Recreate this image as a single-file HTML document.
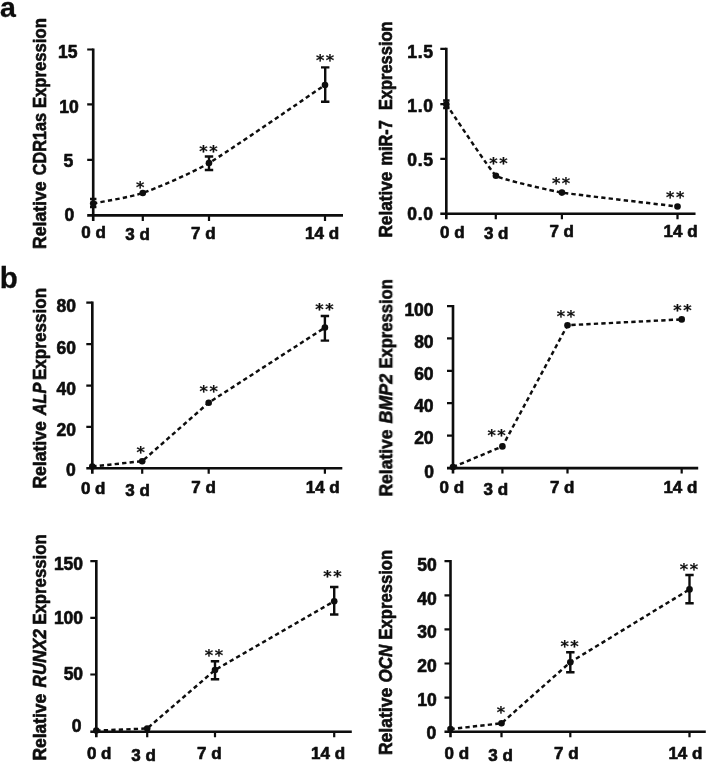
<!DOCTYPE html>
<html lang="en"><head><meta charset="utf-8"><title>Figure</title>
<style>
html,body{margin:0;padding:0;background:#fff;}
svg{display:block;font-family:"Liberation Sans",sans-serif;font-weight:bold;fill:#111;}
text{stroke:#111;stroke-width:0.65px;stroke-linejoin:round}
.ax{stroke:#0a0a0a;stroke-width:2.6;fill:none;stroke-linecap:butt}
.tm{stroke:#0a0a0a;stroke-width:2.2;fill:none;stroke-linecap:butt}
.ln{stroke:#0a0a0a;stroke-width:2.45;fill:none;stroke-dasharray:4.3 3.2}
.eb{stroke:#0a0a0a;stroke-width:2.4;fill:none}
.pt{fill:#0a0a0a}
.tk{font-size:17.5px}
.tx{font-size:17px}
.ti{font-size:19px}
.as{font-family:"DejaVu Sans",sans-serif;font-size:16px;letter-spacing:1.6px;stroke-width:0.2px}
.pl{font-size:28px;stroke-width:0.3px}
.it{font-style:italic}
</style></head><body>
<svg width="709" height="763" viewBox="0 0 709 763">
<defs><filter id="soft" x="0" y="0" width="709" height="763" filterUnits="userSpaceOnUse"><feGaussianBlur stdDeviation="0.4"/></filter></defs>
<rect width="709" height="763" fill="#fff"/>
<g filter="url(#soft)">
<text class="pl" x="0" y="16.6" style="font-size:28.5px">a</text>
<text class="pl" x="-0.3" y="288.2" style="font-size:29.5px">b</text>
<g id="chartA">
<path class="ax" d="M93.2,48.4 V220.9 M87.2,215.4 H343"/>
<path class="tm" d="M87.2,49.5 H93.2 M87.2,104.3 H93.2 M87.2,159.8 H93.2 M142.8,215.4 V220.9 M209,215.4 V220.9 M325,215.4 V220.9"/>
<text class="tk" x="67.8" y="58.4" text-anchor="middle">15</text>
<text class="tk" x="68.9" y="113.0" text-anchor="middle">10</text>
<text class="tk" x="68.3" y="167.2" text-anchor="middle">5</text>
<text class="tk" x="69.4" y="220.7" text-anchor="middle">0</text>
<text class="tx" x="93.6" y="238.3" text-anchor="middle">0 d</text>
<text class="tx" x="137.5" y="240.2" text-anchor="middle">3 d</text>
<text class="tx" x="203.4" y="238.7" text-anchor="middle">7 d</text>
<text class="tx" x="322.1" y="238.7" text-anchor="middle">14 d</text>
<path class="ln" d="M93.2,203.5 C98.2,202.4 131.2,197.1 142.8,193.0 C154.4,188.9 190.8,173.8 209.0,163.0 C227.2,152.2 313.4,92.8 325.0,85.0"/>
<path class="eb" d="M93.2,199 V207 M90.0,199 H96.4 M90.0,207 H96.4"/>
<path class="eb" d="M209,156.5 V170 M204.8,156.5 H213.2 M204.8,170 H213.2"/>
<path class="eb" d="M325.2,67.4 V101.8 M321.0,67.4 H329.4 M321.0,101.8 H329.4"/>
<circle class="pt" cx="93.2" cy="203.5" r="3.3"/>
<circle class="pt" cx="142.8" cy="193" r="3.3"/>
<circle class="pt" cx="209" cy="163" r="3.3"/>
<circle class="pt" cx="325" cy="85" r="3.3"/>
<text class="as" x="136.1" y="192.7">*</text>
<text class="as" x="199.2" y="157.3">**</text>
<text class="as" x="315.9" y="66.4">**</text>
<g transform="translate(45.5,0) rotate(-90)">
<text class="ti" x="-249.10" y="0" textLength="67.75" lengthAdjust="spacingAndGlyphs">Relative</text>
<text class="ti" x="-175.29" y="0" textLength="62.35" lengthAdjust="spacingAndGlyphs">CDR1as</text>
<text class="ti" x="-108.10" y="0" textLength="89.94" lengthAdjust="spacingAndGlyphs">Expression</text>
</g>
</g>
<g id="chartB">
<path class="ax" d="M446.3,47.8 V219.2 M440.3,213.7 H695.5"/>
<path class="tm" d="M440.3,48.9 H446.3 M440.3,104.2 H446.3 M440.3,158.8 H446.3 M495.8,213.7 V219.2 M561.9,213.7 V219.2 M677.5,213.7 V219.2"/>
<text class="tk" x="433.7" y="57.6" text-anchor="end" letter-spacing="0.7">1.5</text>
<text class="tk" x="433.7" y="111.7" text-anchor="end" letter-spacing="0.7">1.0</text>
<text class="tk" x="433.7" y="166.1" text-anchor="end" letter-spacing="0.7">0.5</text>
<text class="tk" x="433.7" y="220.4" text-anchor="end" letter-spacing="0.7">0.0</text>
<text class="tx" x="452.4" y="237.6" text-anchor="middle">0 d</text>
<text class="tx" x="496.2" y="238.8" text-anchor="middle">3 d</text>
<text class="tx" x="561.7" y="237.2" text-anchor="middle">7 d</text>
<text class="tx" x="680.6" y="237.2" text-anchor="middle">14 d</text>
<path class="ln" d="M446.3,104.2 C448.4,107.2 491.1,172.0 495.9,175.7 C500.7,179.4 554.3,191.3 561.9,192.6 C569.5,193.9 672.7,205.9 677.5,206.5"/>
<path class="eb" d="M446.3,100.5 V108 M443.1,100.5 H449.5 M443.1,108 H449.5"/>
<circle class="pt" cx="446.3" cy="104.2" r="3.3"/>
<circle class="pt" cx="495.9" cy="175.7" r="3.3"/>
<circle class="pt" cx="561.9" cy="192.6" r="3.3"/>
<circle class="pt" cx="677.5" cy="206.5" r="3.3"/>
<text class="as" x="489.3" y="169.0">**</text>
<text class="as" x="551.9" y="188.9">**</text>
<text class="as" x="666.1" y="203.1">**</text>
<g transform="translate(392.2,0) rotate(-90)">
<text class="ti" x="-237.60" y="0" textLength="65.97" lengthAdjust="spacingAndGlyphs">Relative</text>
<text class="ti" x="-165.60" y="0" textLength="45.40" lengthAdjust="spacingAndGlyphs">miR-7</text>
<text class="ti" x="-110.10" y="0" textLength="88.67" lengthAdjust="spacingAndGlyphs">Expression</text>
</g>
</g>
<g id="chartC">
<path class="ax" d="M92.3,301.6 V473.8 M86.3,468.3 H342.3"/>
<path class="tm" d="M86.3,302.7 H92.3 M86.3,344.2 H92.3 M86.3,385.6 H92.3 M86.3,426.9 H92.3 M142.2,468.3 V473.8 M208.7,468.3 V473.8 M324.9,468.3 V473.8"/>
<text class="tk" x="76" y="311.9" text-anchor="end">80</text>
<text class="tk" x="76" y="353.9" text-anchor="end">60</text>
<text class="tk" x="76" y="394.9" text-anchor="end">40</text>
<text class="tk" x="76" y="435.8" text-anchor="end">20</text>
<text class="tk" x="75.8" y="475.9" text-anchor="end">0</text>
<text class="tx" x="93.2" y="494.0" text-anchor="middle">0 d</text>
<text class="tx" x="137.5" y="495.8" text-anchor="middle">3 d</text>
<text class="tx" x="203.5" y="493.2" text-anchor="middle">7 d</text>
<text class="tx" x="322.7" y="493.2" text-anchor="middle">14 d</text>
<path class="ln" d="M92.3,466.5 L142.2,461.2 L208.7,402.7 L324.9,327.6"/>
<path class="eb" d="M324.9,316 V340.6 M320.7,316 H329.1 M320.7,340.6 H329.1"/>
<circle class="pt" cx="92.3" cy="466.5" r="3.3"/>
<circle class="pt" cx="142.2" cy="461.2" r="3.3"/>
<circle class="pt" cx="208.7" cy="402.7" r="3.3"/>
<circle class="pt" cx="324.9" cy="327.6" r="3.3"/>
<text class="as" x="136.5" y="458.1">*</text>
<text class="as" x="199.6" y="397.2">**</text>
<text class="as" x="315.3" y="314.8">**</text>
<g transform="translate(46.2,0) rotate(-90)">
<text class="ti" x="-488.60" y="0" textLength="67.37" lengthAdjust="spacingAndGlyphs">Relative</text>
<text class="ti it" x="-415.31" y="0" textLength="32.52" lengthAdjust="spacingAndGlyphs">ALP</text>
<text class="ti" x="-380.05" y="0" textLength="92.13" lengthAdjust="spacingAndGlyphs">Expression</text>
</g>
</g>
<g id="chartD">
<path class="ax" d="M453,305.1 V473.6 M447,468.1 H698.2"/>
<path class="tm" d="M447.0,306.2 H453 M447.0,338.4 H453 M447.0,370.8 H453 M447.0,403.2 H453 M447.0,435.7 H453 M502.4,468.1 V473.6 M567.5,468.1 V473.6 M681.7,468.1 V473.6"/>
<text class="tk" x="433.6" y="316.1" text-anchor="end">100</text>
<text class="tk" x="433.6" y="348.2" text-anchor="end">80</text>
<text class="tk" x="433.6" y="380.2" text-anchor="end">60</text>
<text class="tk" x="433.6" y="411.8" text-anchor="end">40</text>
<text class="tk" x="433.6" y="443.6" text-anchor="end">20</text>
<text class="tk" x="434" y="477.8" text-anchor="end">0</text>
<text class="tx" x="451.8" y="493.2" text-anchor="middle">0 d</text>
<text class="tx" x="495.9" y="494.8" text-anchor="middle">3 d</text>
<text class="tx" x="562.2" y="493.2" text-anchor="middle">7 d</text>
<text class="tx" x="680.4" y="493.2" text-anchor="middle">14 d</text>
<path class="ln" d="M453.0,467.1 L502.4,446.4 L567.5,325.2 L681.7,319.4"/>
<circle class="pt" cx="453" cy="467.1" r="3.3"/>
<circle class="pt" cx="502.4" cy="446.4" r="3.3"/>
<circle class="pt" cx="567.5" cy="325.2" r="3.3"/>
<circle class="pt" cx="681.7" cy="319.4" r="3.3"/>
<text class="as" x="487.4" y="441.2">**</text>
<text class="as" x="556.8" y="322.0">**</text>
<text class="as" x="673.3" y="315.6">**</text>
<g transform="translate(392.3,0) rotate(-90)">
<text class="ti" x="-496.60" y="0" textLength="67.19" lengthAdjust="spacingAndGlyphs">Relative</text>
<text class="ti it" x="-423.42" y="0" textLength="49.47" lengthAdjust="spacingAndGlyphs">BMP2</text>
<text class="ti" x="-368.60" y="0" textLength="89.45" lengthAdjust="spacingAndGlyphs">Expression</text>
</g>
</g>
<g id="chartE">
<path class="ax" d="M96.3,560.1 V737.2 M90.3,731.7 H351.8"/>
<path class="tm" d="M90.3,561.2 H96.3 M90.3,617.9 H96.3 M90.3,674.5 H96.3 M147.2,731.7 V737.2 M215,731.7 V737.2 M334.2,731.7 V737.2"/>
<text class="tk" x="83.1" y="570.1" text-anchor="end">150</text>
<text class="tk" x="83.1" y="624.4" text-anchor="end">100</text>
<text class="tk" x="83.1" y="679.8" text-anchor="end">50</text>
<text class="tk" x="81.6" y="732.2" text-anchor="end">0</text>
<text class="tx" x="99.2" y="759.0" text-anchor="middle">0 d</text>
<text class="tx" x="143.5" y="761.1" text-anchor="middle">3 d</text>
<text class="tx" x="209.3" y="758.7" text-anchor="middle">7 d</text>
<text class="tx" x="328.1" y="758.7" text-anchor="middle">14 d</text>
<path class="ln" d="M96.3,730.6 L147.2,728.5 L215.0,670.0 L334.2,601.2"/>
<path class="eb" d="M215,661.3 V679.2 M210.8,661.3 H219.2 M210.8,679.2 H219.2"/>
<path class="eb" d="M334.2,587 V614.5 M330.0,587 H338.4 M330.0,614.5 H338.4"/>
<circle class="pt" cx="96.3" cy="730.6" r="3.3"/>
<circle class="pt" cx="147.2" cy="728.5" r="3.3"/>
<circle class="pt" cx="215" cy="670" r="3.3"/>
<circle class="pt" cx="334.2" cy="601.2" r="3.3"/>
<text class="as" x="204.8" y="661.0">**</text>
<text class="as" x="323.2" y="582.0">**</text>
<g transform="translate(46.2,0) rotate(-90)">
<text class="ti" x="-760.60" y="0" textLength="66.75" lengthAdjust="spacingAndGlyphs">Relative</text>
<text class="ti it" x="-687.43" y="0" textLength="58.19" lengthAdjust="spacingAndGlyphs">RUNX2</text>
<text class="ti" x="-624.60" y="0" textLength="90.22" lengthAdjust="spacingAndGlyphs">Expression</text>
</g>
</g>
<g id="chartF">
<path class="ax" d="M450.5,560.1 V737.2 M444.5,731.7 H705.8"/>
<path class="tm" d="M444.5,561.2 H450.5 M444.5,595.3 H450.5 M444.5,629.4 H450.5 M444.5,663.5 H450.5 M444.5,697.7 H450.5 M501.5,731.7 V737.2 M570.3,731.7 V737.2 M689.5,731.7 V737.2"/>
<text class="tk" x="436.8" y="571.0" text-anchor="end">50</text>
<text class="tk" x="436.8" y="604.6" text-anchor="end">40</text>
<text class="tk" x="436.8" y="638.2" text-anchor="end">30</text>
<text class="tk" x="436.8" y="671.9" text-anchor="end">20</text>
<text class="tk" x="436.8" y="705.8" text-anchor="end">10</text>
<text class="tk" x="436.2" y="739.0" text-anchor="end">0</text>
<text class="tx" x="456.9" y="759.0" text-anchor="middle">0 d</text>
<text class="tx" x="500.6" y="760.5" text-anchor="middle">3 d</text>
<text class="tx" x="566.4" y="758.6" text-anchor="middle">7 d</text>
<text class="tx" x="685.4" y="758.6" text-anchor="middle">14 d</text>
<path class="ln" d="M450.5,729.1 L501.5,723.3 L570.3,662.2 L689.5,589.4"/>
<path class="eb" d="M570.3,652.2 V672.3 M566.1,652.2 H574.5 M566.1,672.3 H574.5"/>
<path class="eb" d="M689.5,575 V603.2 M685.3,575 H693.7 M685.3,603.2 H693.7"/>
<circle class="pt" cx="450.5" cy="729.1" r="3.3"/>
<circle class="pt" cx="501.5" cy="723.3" r="3.3"/>
<circle class="pt" cx="570.3" cy="662.2" r="3.3"/>
<circle class="pt" cx="689.5" cy="589.4" r="3.3"/>
<text class="as" x="496.7" y="718.2">*</text>
<text class="as" x="560.4" y="651.9">**</text>
<text class="as" x="679.7" y="575.4">**</text>
<g transform="translate(392.3,0) rotate(-90)">
<text class="ti" x="-755.10" y="0" textLength="67.25" lengthAdjust="spacingAndGlyphs">Relative</text>
<text class="ti it" x="-682.41" y="0" textLength="37.76" lengthAdjust="spacingAndGlyphs">OCN</text>
<text class="ti" x="-639.60" y="0" textLength="89.67" lengthAdjust="spacingAndGlyphs">Expression</text>
</g>
</g>
</g>
</svg>
</body></html>
